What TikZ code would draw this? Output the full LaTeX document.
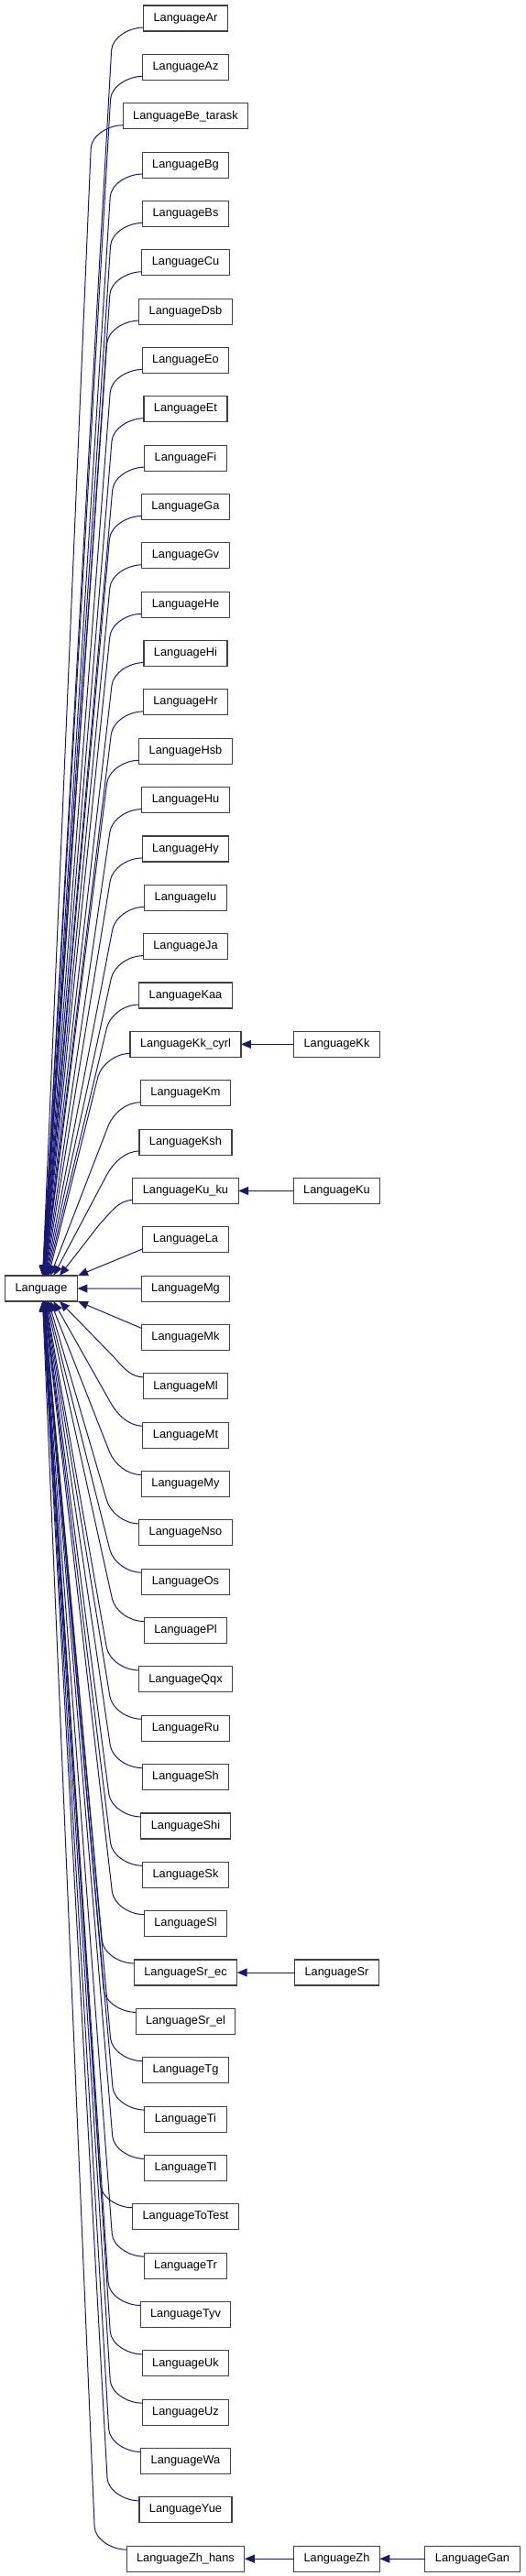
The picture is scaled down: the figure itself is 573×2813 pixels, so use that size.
\documentclass[tikz,border=0pt]{standalone}
\usepackage{fontspec}
\setmainfont{Liberation Sans}
\usetikzlibrary{arrows.meta,positioning}
\definecolor{edgeblue}{RGB}{25,25,112}
\definecolor{boxline}{RGB}{64,64,64}

\begin{document}
\begin{tikzpicture}[x=1pt,y=1pt,
  cls/.style={draw=boxline,line width=1.1pt,fill=white,font=\fontsize{12.8}{14}\selectfont,
              inner xsep=11pt,inner ysep=2pt,minimum height=28pt,outer sep=0pt},
  inh/.style={{Triangle[length=11pt,width=9pt]}-,draw=edgeblue,line width=1pt}
]
\useasboundingbox (0,0) rectangle (573,-2813);
\node[cls] (lang) at (45,-1407) {Language};
% one column of subclasses, each one linked back to Language
\foreach \nm/\lbl [count=\i from 0, remember=\nm as \prev (initially ar)] in
  {ar/Ar,az/Az,betarask/Be\_tarask,bg/Bg,bs/Bs,cu/Cu,dsb/Dsb,eo/Eo,et/Et,fi/Fi,
   ga/Ga,gv/Gv,he/He,hi/Hi,hr/Hr,hsb/Hsb,hu/Hu,hy/Hy,iu/Iu,ja/Ja,kaa/Kaa,
   kkcyrl/Kk\_cyrl,km/Km,ksh/Ksh,kuku/Ku\_ku,la/La,mg/Mg,mk/Mk,ml/Ml,mt/Mt,
   my/My,nso/Nso,os/Os,pl/Pl,qqx/Qqx,ru/Ru,sh/Sh,shi/Shi,sk/Sk,sl/Sl,
   srec/Sr\_ec,srel/Sr\_el,tg/Tg,ti/Ti,tl/Tl,totest/ToTest,tr/Tr,tyv/Tyv,
   uk/Uk,uz/Uz,wa/Wa,yue/Yue,zhhans/Zh\_hans}{
  \ifnum\i=0
    \node[cls] (\nm) at (202.5,-20) {Language\lbl};
  \else
    \node[cls,below=25.35pt of \prev] (\nm) {Language\lbl};
  \fi
  \pgfmathtruncatemacro\ak{abs(\i-26)}
  \ifnum\ak=0
    \draw[inh] (lang.east) -- (\nm.west);
  \else
    \pgfmathsetmacro\xs{40/\ak}
    \ifnum\i<26
      \def\sgn{1}\def\langanc{north}\def\kidanc{south west}
    \else
      \def\sgn{-1}\def\langanc{south}\def\kidanc{north west}
    \fi
    \pgfmathsetmacro\py{\sgn*4}
    \pgfmathsetmacro\qy{-\sgn*21}
    \ifnum\ak=1
      \draw[inh] ([xshift=\xs pt]lang.\langanc) -- ([yshift=\py pt]\nm.\kidanc);
    \else
      \pgfmathsetmacro\ddx{(78-\xs)/100}
      \pgfmathsetmacro\ddy{(53.35*\ak-49)/100}
      \pgfmathsetmacro\len{veclen(\ddx,\ddy)}
      \pgfmathsetmacro\ux{14*\ddx/\len}
      \pgfmathsetmacro\uy{\sgn*14*\ddy/\len}
      \draw[inh] ([xshift=\xs pt]lang.\langanc) -- ([xshift=-35pt,yshift=\qy pt]\nm.\kidanc)
        .. controls +(\ux,\uy) and +(-16,0) .. ([yshift=\py pt]\nm.\kidanc);
    \fi
  \fi
}
% second level
\node[cls] (kk) at (kkcyrl -| 367.5,0) {LanguageKk};
\node[cls] (ku) at (kuku -| 367.5,0) {LanguageKu};
\node[cls] (sr) at (srec -| 367.5,0) {LanguageSr};
\node[cls] (zh) at (zhhans -| 367.5,0) {LanguageZh};
\node[cls] (gan) at (zhhans -| 515.5,0) {LanguageGan};
\draw[inh] (kkcyrl.east) -- (kk.west);
\draw[inh] (kuku.east) -- (ku.west);
\draw[inh] (srec.east) -- (sr.west);
\draw[inh] (zhhans.east) -- (zh.west);
\draw[inh] (zh.east) -- (gan.west);
\end{tikzpicture}
\end{document}
